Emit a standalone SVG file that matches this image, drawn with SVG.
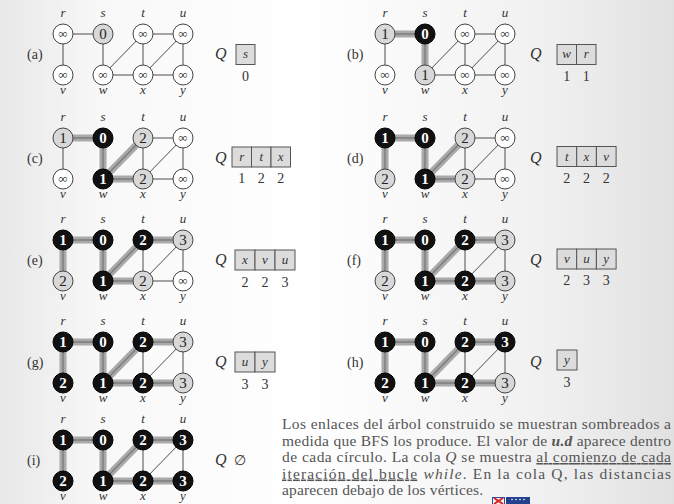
<svg xmlns="http://www.w3.org/2000/svg" width="674" height="504" viewBox="0 0 674 504" font-family="'Liberation Serif', 'Times New Roman', serif">
<defs>
<linearGradient id="bg" x1="0" y1="0" x2="1" y2="0">
<stop offset="0" stop-color="#e8e8e8"/>
<stop offset="0.15" stop-color="#f8f8f8"/>
<stop offset="0.45" stop-color="#ffffff"/>
<stop offset="0.8" stop-color="#f1f1f1"/>
<stop offset="1" stop-color="#e1e1e1"/>
</linearGradient>
<style>
.e{stroke:#3a3a3a;stroke-width:0.9;fill:none}
.tb{stroke:#a9a9a9;stroke-width:7;fill:none}
.tc{stroke:#7c7c7c;stroke-width:1.4;fill:none}
.nw{fill:#fff;stroke:#444;stroke-width:1}
.ng{fill:#d8d8d8;stroke:#444;stroke-width:1}
.nb{fill:#111;stroke:#000;stroke-width:1}
.num{font-family:'Liberation Serif',serif;font-size:15px;text-anchor:middle;fill:#222}
.w{fill:#fff;font-weight:bold}
.inf{font-family:'Liberation Serif',serif;font-size:13px;text-anchor:middle;fill:#333}
.lab{font-family:'Liberation Serif',serif;font-size:13px;font-style:italic;text-anchor:middle;fill:#333}
.pl{font-family:'Liberation Serif',serif;font-size:14px;fill:#333}
.q{font-family:'Liberation Serif',serif;font-size:16px;font-style:italic;fill:#333}
.cell{fill:#dcdcdc;stroke:#555;stroke-width:1}
.ql{font-family:'Liberation Serif',serif;font-size:13px;font-style:italic;text-anchor:middle;fill:#333}
.qn{font-family:'Liberation Serif',serif;font-size:14px;text-anchor:middle;fill:#333}
.para{font-family:'Liberation Serif',serif;font-size:15.5px;fill:#555}
</style>
</defs>
<rect x="0" y="0" width="674" height="504" fill="url(#bg)"/>

<!-- Panel (a) -->
<g id="panel-a" transform="translate(63,34)">
<text class="pl" x="-36" y="25">(a)</text>
<g id="a-edges">
<line class="e" x1="0" y1="0" x2="40" y2="0"/><line class="e" x1="0" y1="0" x2="0" y2="41"/><line class="e" x1="40" y1="0" x2="40" y2="41"/><line class="e" x1="40" y1="41" x2="80" y2="0"/><line class="e" x1="40" y1="41" x2="80" y2="41"/><line class="e" x1="80" y1="0" x2="80" y2="41"/><line class="e" x1="80" y1="0" x2="120" y2="0"/><line class="e" x1="80" y1="41" x2="120" y2="0"/><line class="e" x1="80" y1="41" x2="120" y2="41"/><line class="e" x1="120" y1="0" x2="120" y2="41"/>
</g>
<g id="a-r"><circle class="nw" cx="0" cy="0" r="10"/><text class="inf" x="0" y="4">∞</text><text class="lab" x="0" y="-17">r</text></g>
<g id="a-s"><circle class="ng" cx="40" cy="0" r="10"/><text class="num" x="40" y="5">0</text><text class="lab" x="40" y="-17">s</text></g>
<g id="a-t"><circle class="nw" cx="80" cy="0" r="10"/><text class="inf" x="80" y="4">∞</text><text class="lab" x="80" y="-17">t</text></g>
<g id="a-u"><circle class="nw" cx="120" cy="0" r="10"/><text class="inf" x="120" y="4">∞</text><text class="lab" x="120" y="-17">u</text></g>
<g id="a-v"><circle class="nw" cx="0" cy="41" r="10"/><text class="inf" x="0" y="45">∞</text><text class="lab" x="0" y="60">v</text></g>
<g id="a-w"><circle class="nw" cx="40" cy="41" r="10"/><text class="inf" x="40" y="45">∞</text><text class="lab" x="40" y="60">w</text></g>
<g id="a-x"><circle class="nw" cx="80" cy="41" r="10"/><text class="inf" x="80" y="45">∞</text><text class="lab" x="80" y="60">x</text></g>
<g id="a-y"><circle class="nw" cx="120" cy="41" r="10"/><text class="inf" x="120" y="45">∞</text><text class="lab" x="120" y="60">y</text></g>
<g id="a-queue"><text class="q" x="152" y="25">Q</text><rect class="cell" x="173" y="10.5" width="19" height="20"/><text class="ql" x="182.5" y="24">s</text><text class="qn" x="182.5" y="47">0</text></g>
</g>

<!-- Panel (b) -->
<g id="panel-b" transform="translate(385,34)">
<text class="pl" x="-38" y="25">(b)</text>
<g id="b-edges">
<line class="tb" x1="0" y1="0" x2="40" y2="0"/><line class="tc" x1="0" y1="0" x2="40" y2="0"/>
<line class="tb" x1="40" y1="0" x2="40" y2="41"/><line class="tc" x1="40" y1="0" x2="40" y2="41"/>
<line class="e" x1="0" y1="0" x2="0" y2="41"/><line class="e" x1="40" y1="41" x2="80" y2="0"/><line class="e" x1="40" y1="41" x2="80" y2="41"/><line class="e" x1="80" y1="0" x2="80" y2="41"/><line class="e" x1="80" y1="0" x2="120" y2="0"/><line class="e" x1="80" y1="41" x2="120" y2="0"/><line class="e" x1="80" y1="41" x2="120" y2="41"/><line class="e" x1="120" y1="0" x2="120" y2="41"/>
</g>
<g id="b-r"><circle class="ng" cx="0" cy="0" r="10"/><text class="num" x="0" y="5">1</text><text class="lab" x="0" y="-17">r</text></g>
<g id="b-s"><circle class="nb" cx="40" cy="0" r="10"/><text class="num w" x="40" y="5">0</text><text class="lab" x="40" y="-17">s</text></g>
<g id="b-t"><circle class="nw" cx="80" cy="0" r="10"/><text class="inf" x="80" y="4">∞</text><text class="lab" x="80" y="-17">t</text></g>
<g id="b-u"><circle class="nw" cx="120" cy="0" r="10"/><text class="inf" x="120" y="4">∞</text><text class="lab" x="120" y="-17">u</text></g>
<g id="b-v"><circle class="nw" cx="0" cy="41" r="10"/><text class="inf" x="0" y="45">∞</text><text class="lab" x="0" y="60">v</text></g>
<g id="b-w"><circle class="ng" cx="40" cy="41" r="10"/><text class="num" x="40" y="46">1</text><text class="lab" x="40" y="60">w</text></g>
<g id="b-x"><circle class="nw" cx="80" cy="41" r="10"/><text class="inf" x="80" y="45">∞</text><text class="lab" x="80" y="60">x</text></g>
<g id="b-y"><circle class="nw" cx="120" cy="41" r="10"/><text class="inf" x="120" y="45">∞</text><text class="lab" x="120" y="60">y</text></g>
<g id="b-queue"><text class="q" x="145" y="25">Q</text><rect class="cell" x="172" y="10.5" width="19.5" height="20"/><rect class="cell" x="191.5" y="10.5" width="19.5" height="20"/><text class="ql" x="181.7" y="24">w</text><text class="ql" x="201.2" y="24">r</text><text class="qn" x="181.7" y="47">1</text><text class="qn" x="201.2" y="47">1</text></g>
</g>

<!-- Panel (c) -->
<g id="panel-c" transform="translate(63,138)">
<text class="pl" x="-36" y="25">(c)</text>
<g id="c-edges">
<line class="tb" x1="0" y1="0" x2="40" y2="0"/><line class="tc" x1="0" y1="0" x2="40" y2="0"/>
<line class="tb" x1="40" y1="0" x2="40" y2="41"/><line class="tc" x1="40" y1="0" x2="40" y2="41"/>
<line class="tb" x1="40" y1="41" x2="80" y2="0"/><line class="tc" x1="40" y1="41" x2="80" y2="0"/>
<line class="tb" x1="40" y1="41" x2="80" y2="41"/><line class="tc" x1="40" y1="41" x2="80" y2="41"/>
<line class="e" x1="0" y1="0" x2="0" y2="41"/><line class="e" x1="80" y1="0" x2="80" y2="41"/><line class="e" x1="80" y1="0" x2="120" y2="0"/><line class="e" x1="80" y1="41" x2="120" y2="0"/><line class="e" x1="80" y1="41" x2="120" y2="41"/><line class="e" x1="120" y1="0" x2="120" y2="41"/>
</g>
<g id="c-r"><circle class="ng" cx="0" cy="0" r="10"/><text class="num" x="0" y="5">1</text><text class="lab" x="0" y="-17">r</text></g>
<g id="c-s"><circle class="nb" cx="40" cy="0" r="10"/><text class="num w" x="40" y="5">0</text><text class="lab" x="40" y="-17">s</text></g>
<g id="c-t"><circle class="ng" cx="80" cy="0" r="10"/><text class="num" x="80" y="5">2</text><text class="lab" x="80" y="-17">t</text></g>
<g id="c-u"><circle class="nw" cx="120" cy="0" r="10"/><text class="inf" x="120" y="4">∞</text><text class="lab" x="120" y="-17">u</text></g>
<g id="c-v"><circle class="nw" cx="0" cy="41" r="10"/><text class="inf" x="0" y="45">∞</text><text class="lab" x="0" y="60">v</text></g>
<g id="c-w"><circle class="nb" cx="40" cy="41" r="10"/><text class="num w" x="40" y="46">1</text><text class="lab" x="40" y="60">w</text></g>
<g id="c-x"><circle class="ng" cx="80" cy="41" r="10"/><text class="num" x="80" y="46">2</text><text class="lab" x="80" y="60">x</text></g>
<g id="c-y"><circle class="nw" cx="120" cy="41" r="10"/><text class="inf" x="120" y="45">∞</text><text class="lab" x="120" y="60">y</text></g>
<g id="c-queue"><text class="q" x="152" y="25">Q</text><rect class="cell" x="169" y="9" width="19.5" height="20"/><rect class="cell" x="188.5" y="9" width="19.5" height="20"/><rect class="cell" x="208" y="9" width="19.5" height="20"/><text class="ql" x="178.7" y="23">r</text><text class="ql" x="198.2" y="23">t</text><text class="ql" x="217.7" y="23">x</text><text class="qn" x="178.7" y="45">1</text><text class="qn" x="198.2" y="45">2</text><text class="qn" x="217.7" y="45">2</text></g>
</g>

<!-- Panel (d) -->
<g id="panel-d" transform="translate(385,138)">
<text class="pl" x="-38" y="25">(d)</text>
<g id="d-edges">
<line class="tb" x1="0" y1="0" x2="40" y2="0"/><line class="tc" x1="0" y1="0" x2="40" y2="0"/>
<line class="tb" x1="0" y1="0" x2="0" y2="41"/><line class="tc" x1="0" y1="0" x2="0" y2="41"/>
<line class="tb" x1="40" y1="0" x2="40" y2="41"/><line class="tc" x1="40" y1="0" x2="40" y2="41"/>
<line class="tb" x1="40" y1="41" x2="80" y2="0"/><line class="tc" x1="40" y1="41" x2="80" y2="0"/>
<line class="tb" x1="40" y1="41" x2="80" y2="41"/><line class="tc" x1="40" y1="41" x2="80" y2="41"/>
<line class="e" x1="80" y1="0" x2="80" y2="41"/><line class="e" x1="80" y1="0" x2="120" y2="0"/><line class="e" x1="80" y1="41" x2="120" y2="0"/><line class="e" x1="80" y1="41" x2="120" y2="41"/><line class="e" x1="120" y1="0" x2="120" y2="41"/>
</g>
<g id="d-r"><circle class="nb" cx="0" cy="0" r="10"/><text class="num w" x="0" y="5">1</text><text class="lab" x="0" y="-17">r</text></g>
<g id="d-s"><circle class="nb" cx="40" cy="0" r="10"/><text class="num w" x="40" y="5">0</text><text class="lab" x="40" y="-17">s</text></g>
<g id="d-t"><circle class="ng" cx="80" cy="0" r="10"/><text class="num" x="80" y="5">2</text><text class="lab" x="80" y="-17">t</text></g>
<g id="d-u"><circle class="nw" cx="120" cy="0" r="10"/><text class="inf" x="120" y="4">∞</text><text class="lab" x="120" y="-17">u</text></g>
<g id="d-v"><circle class="ng" cx="0" cy="41" r="10"/><text class="num" x="0" y="46">2</text><text class="lab" x="0" y="60">v</text></g>
<g id="d-w"><circle class="nb" cx="40" cy="41" r="10"/><text class="num w" x="40" y="46">1</text><text class="lab" x="40" y="60">w</text></g>
<g id="d-x"><circle class="ng" cx="80" cy="41" r="10"/><text class="num" x="80" y="46">2</text><text class="lab" x="80" y="60">x</text></g>
<g id="d-y"><circle class="nw" cx="120" cy="41" r="10"/><text class="inf" x="120" y="45">∞</text><text class="lab" x="120" y="60">y</text></g>
<g id="d-queue"><text class="q" x="145" y="25">Q</text><rect class="cell" x="172" y="8.5" width="19.7" height="20"/><rect class="cell" x="191.7" y="8.5" width="19.7" height="20"/><rect class="cell" x="211.4" y="8.5" width="19.7" height="20"/><text class="ql" x="181.8" y="22.5">t</text><text class="ql" x="201.5" y="22.5">x</text><text class="ql" x="221.2" y="22.5">v</text><text class="qn" x="181.8" y="45">2</text><text class="qn" x="201.5" y="45">2</text><text class="qn" x="221.2" y="45">2</text></g>
</g>

<!-- Panel (e) -->
<g id="panel-e" transform="translate(63,240)">
<text class="pl" x="-36" y="25">(e)</text>
<g id="e-edges">
<line class="tb" x1="0" y1="0" x2="40" y2="0"/><line class="tc" x1="0" y1="0" x2="40" y2="0"/>
<line class="tb" x1="0" y1="0" x2="0" y2="41"/><line class="tc" x1="0" y1="0" x2="0" y2="41"/>
<line class="tb" x1="40" y1="0" x2="40" y2="41"/><line class="tc" x1="40" y1="0" x2="40" y2="41"/>
<line class="tb" x1="40" y1="41" x2="80" y2="0"/><line class="tc" x1="40" y1="41" x2="80" y2="0"/>
<line class="tb" x1="40" y1="41" x2="80" y2="41"/><line class="tc" x1="40" y1="41" x2="80" y2="41"/>
<line class="tb" x1="80" y1="0" x2="120" y2="0"/><line class="tc" x1="80" y1="0" x2="120" y2="0"/>
<line class="e" x1="80" y1="0" x2="80" y2="41"/><line class="e" x1="80" y1="41" x2="120" y2="0"/><line class="e" x1="80" y1="41" x2="120" y2="41"/><line class="e" x1="120" y1="0" x2="120" y2="41"/>
</g>
<g id="e-r"><circle class="nb" cx="0" cy="0" r="10"/><text class="num w" x="0" y="5">1</text><text class="lab" x="0" y="-17">r</text></g>
<g id="e-s"><circle class="nb" cx="40" cy="0" r="10"/><text class="num w" x="40" y="5">0</text><text class="lab" x="40" y="-17">s</text></g>
<g id="e-t"><circle class="nb" cx="80" cy="0" r="10"/><text class="num w" x="80" y="5">2</text><text class="lab" x="80" y="-17">t</text></g>
<g id="e-u"><circle class="ng" cx="120" cy="0" r="10"/><text class="num" x="120" y="5">3</text><text class="lab" x="120" y="-17">u</text></g>
<g id="e-v"><circle class="ng" cx="0" cy="41" r="10"/><text class="num" x="0" y="46">2</text><text class="lab" x="0" y="60">v</text></g>
<g id="e-w"><circle class="nb" cx="40" cy="41" r="10"/><text class="num w" x="40" y="46">1</text><text class="lab" x="40" y="60">w</text></g>
<g id="e-x"><circle class="ng" cx="80" cy="41" r="10"/><text class="num" x="80" y="46">2</text><text class="lab" x="80" y="60">x</text></g>
<g id="e-y"><circle class="nw" cx="120" cy="41" r="10"/><text class="inf" x="120" y="45">∞</text><text class="lab" x="120" y="60">y</text></g>
<g id="e-queue"><text class="q" x="152" y="25">Q</text><rect class="cell" x="172" y="10" width="20" height="20"/><rect class="cell" x="192" y="10" width="20" height="20"/><rect class="cell" x="212" y="10" width="20" height="20"/><text class="ql" x="182" y="24">x</text><text class="ql" x="202" y="24">v</text><text class="ql" x="222" y="24">u</text><text class="qn" x="182" y="47">2</text><text class="qn" x="202" y="47">2</text><text class="qn" x="222" y="47">3</text></g>
</g>

<!-- Panel (f) -->
<g id="panel-f" transform="translate(385,240)">
<text class="pl" x="-38" y="25">(f)</text>
<g id="f-edges">
<line class="tb" x1="0" y1="0" x2="40" y2="0"/><line class="tc" x1="0" y1="0" x2="40" y2="0"/>
<line class="tb" x1="0" y1="0" x2="0" y2="41"/><line class="tc" x1="0" y1="0" x2="0" y2="41"/>
<line class="tb" x1="40" y1="0" x2="40" y2="41"/><line class="tc" x1="40" y1="0" x2="40" y2="41"/>
<line class="tb" x1="40" y1="41" x2="80" y2="0"/><line class="tc" x1="40" y1="41" x2="80" y2="0"/>
<line class="tb" x1="40" y1="41" x2="80" y2="41"/><line class="tc" x1="40" y1="41" x2="80" y2="41"/>
<line class="tb" x1="80" y1="0" x2="120" y2="0"/><line class="tc" x1="80" y1="0" x2="120" y2="0"/>
<line class="tb" x1="80" y1="41" x2="120" y2="41"/><line class="tc" x1="80" y1="41" x2="120" y2="41"/>
<line class="e" x1="80" y1="0" x2="80" y2="41"/><line class="e" x1="80" y1="41" x2="120" y2="0"/><line class="e" x1="120" y1="0" x2="120" y2="41"/>
</g>
<g id="f-r"><circle class="nb" cx="0" cy="0" r="10"/><text class="num w" x="0" y="5">1</text><text class="lab" x="0" y="-17">r</text></g>
<g id="f-s"><circle class="nb" cx="40" cy="0" r="10"/><text class="num w" x="40" y="5">0</text><text class="lab" x="40" y="-17">s</text></g>
<g id="f-t"><circle class="nb" cx="80" cy="0" r="10"/><text class="num w" x="80" y="5">2</text><text class="lab" x="80" y="-17">t</text></g>
<g id="f-u"><circle class="ng" cx="120" cy="0" r="10"/><text class="num" x="120" y="5">3</text><text class="lab" x="120" y="-17">u</text></g>
<g id="f-v"><circle class="ng" cx="0" cy="41" r="10"/><text class="num" x="0" y="46">2</text><text class="lab" x="0" y="60">v</text></g>
<g id="f-w"><circle class="nb" cx="40" cy="41" r="10"/><text class="num w" x="40" y="46">1</text><text class="lab" x="40" y="60">w</text></g>
<g id="f-x"><circle class="nb" cx="80" cy="41" r="10"/><text class="num w" x="80" y="46">2</text><text class="lab" x="80" y="60">x</text></g>
<g id="f-y"><circle class="ng" cx="120" cy="41" r="10"/><text class="num" x="120" y="46">3</text><text class="lab" x="120" y="60">y</text></g>
<g id="f-queue"><text class="q" x="145" y="25">Q</text><rect class="cell" x="172" y="9" width="19.7" height="20"/><rect class="cell" x="191.7" y="9" width="19.7" height="20"/><rect class="cell" x="211.4" y="9" width="19.7" height="20"/><text class="ql" x="181.8" y="23">v</text><text class="ql" x="201.5" y="23">u</text><text class="ql" x="221.2" y="23">y</text><text class="qn" x="181.8" y="45">2</text><text class="qn" x="201.5" y="45">3</text><text class="qn" x="221.2" y="45">3</text></g>
</g>

<!-- Panel (g) -->
<g id="panel-g" transform="translate(63,342)">
<text class="pl" x="-36" y="25">(g)</text>
<g id="g-edges">
<line class="tb" x1="0" y1="0" x2="40" y2="0"/><line class="tc" x1="0" y1="0" x2="40" y2="0"/>
<line class="tb" x1="0" y1="0" x2="0" y2="41"/><line class="tc" x1="0" y1="0" x2="0" y2="41"/>
<line class="tb" x1="40" y1="0" x2="40" y2="41"/><line class="tc" x1="40" y1="0" x2="40" y2="41"/>
<line class="tb" x1="40" y1="41" x2="80" y2="0"/><line class="tc" x1="40" y1="41" x2="80" y2="0"/>
<line class="tb" x1="40" y1="41" x2="80" y2="41"/><line class="tc" x1="40" y1="41" x2="80" y2="41"/>
<line class="tb" x1="80" y1="0" x2="120" y2="0"/><line class="tc" x1="80" y1="0" x2="120" y2="0"/>
<line class="tb" x1="80" y1="41" x2="120" y2="41"/><line class="tc" x1="80" y1="41" x2="120" y2="41"/>
<line class="e" x1="80" y1="0" x2="80" y2="41"/><line class="e" x1="80" y1="41" x2="120" y2="0"/><line class="e" x1="120" y1="0" x2="120" y2="41"/>
</g>
<g id="g-r"><circle class="nb" cx="0" cy="0" r="10"/><text class="num w" x="0" y="5">1</text><text class="lab" x="0" y="-17">r</text></g>
<g id="g-s"><circle class="nb" cx="40" cy="0" r="10"/><text class="num w" x="40" y="5">0</text><text class="lab" x="40" y="-17">s</text></g>
<g id="g-t"><circle class="nb" cx="80" cy="0" r="10"/><text class="num w" x="80" y="5">2</text><text class="lab" x="80" y="-17">t</text></g>
<g id="g-u"><circle class="ng" cx="120" cy="0" r="10"/><text class="num" x="120" y="5">3</text><text class="lab" x="120" y="-17">u</text></g>
<g id="g-v"><circle class="nb" cx="0" cy="41" r="10"/><text class="num w" x="0" y="46">2</text><text class="lab" x="0" y="60">v</text></g>
<g id="g-w"><circle class="nb" cx="40" cy="41" r="10"/><text class="num w" x="40" y="46">1</text><text class="lab" x="40" y="60">w</text></g>
<g id="g-x"><circle class="nb" cx="80" cy="41" r="10"/><text class="num w" x="80" y="46">2</text><text class="lab" x="80" y="60">x</text></g>
<g id="g-y"><circle class="ng" cx="120" cy="41" r="10"/><text class="num" x="120" y="46">3</text><text class="lab" x="120" y="60">y</text></g>
<g id="g-queue"><text class="q" x="152" y="25">Q</text><rect class="cell" x="172" y="10" width="20" height="20"/><rect class="cell" x="192" y="10" width="20" height="20"/><text class="ql" x="182" y="24">u</text><text class="ql" x="202" y="24">y</text><text class="qn" x="182" y="47">3</text><text class="qn" x="202" y="47">3</text></g>
</g>

<!-- Panel (h) -->
<g id="panel-h" transform="translate(385,342)">
<text class="pl" x="-38" y="25">(h)</text>
<g id="h-edges">
<line class="tb" x1="0" y1="0" x2="40" y2="0"/><line class="tc" x1="0" y1="0" x2="40" y2="0"/>
<line class="tb" x1="0" y1="0" x2="0" y2="41"/><line class="tc" x1="0" y1="0" x2="0" y2="41"/>
<line class="tb" x1="40" y1="0" x2="40" y2="41"/><line class="tc" x1="40" y1="0" x2="40" y2="41"/>
<line class="tb" x1="40" y1="41" x2="80" y2="0"/><line class="tc" x1="40" y1="41" x2="80" y2="0"/>
<line class="tb" x1="40" y1="41" x2="80" y2="41"/><line class="tc" x1="40" y1="41" x2="80" y2="41"/>
<line class="tb" x1="80" y1="0" x2="120" y2="0"/><line class="tc" x1="80" y1="0" x2="120" y2="0"/>
<line class="tb" x1="80" y1="41" x2="120" y2="41"/><line class="tc" x1="80" y1="41" x2="120" y2="41"/>
<line class="e" x1="80" y1="0" x2="80" y2="41"/><line class="e" x1="80" y1="41" x2="120" y2="0"/><line class="e" x1="120" y1="0" x2="120" y2="41"/>
</g>
<g id="h-r"><circle class="nb" cx="0" cy="0" r="10"/><text class="num w" x="0" y="5">1</text><text class="lab" x="0" y="-17">r</text></g>
<g id="h-s"><circle class="nb" cx="40" cy="0" r="10"/><text class="num w" x="40" y="5">0</text><text class="lab" x="40" y="-17">s</text></g>
<g id="h-t"><circle class="nb" cx="80" cy="0" r="10"/><text class="num w" x="80" y="5">2</text><text class="lab" x="80" y="-17">t</text></g>
<g id="h-u"><circle class="nb" cx="120" cy="0" r="10"/><text class="num w" x="120" y="5">3</text><text class="lab" x="120" y="-17">u</text></g>
<g id="h-v"><circle class="nb" cx="0" cy="41" r="10"/><text class="num w" x="0" y="46">2</text><text class="lab" x="0" y="60">v</text></g>
<g id="h-w"><circle class="nb" cx="40" cy="41" r="10"/><text class="num w" x="40" y="46">1</text><text class="lab" x="40" y="60">w</text></g>
<g id="h-x"><circle class="nb" cx="80" cy="41" r="10"/><text class="num w" x="80" y="46">2</text><text class="lab" x="80" y="60">x</text></g>
<g id="h-y"><circle class="ng" cx="120" cy="41" r="10"/><text class="num" x="120" y="46">3</text><text class="lab" x="120" y="60">y</text></g>
<g id="h-queue"><text class="q" x="145" y="25">Q</text><rect class="cell" x="172" y="8" width="20" height="20"/><text class="ql" x="182" y="22">y</text><text class="qn" x="182" y="45">3</text></g>
</g>

<!-- Panel (i) -->
<g id="panel-i" transform="translate(63,440)">
<text class="pl" x="-36" y="25">(i)</text>
<g id="i-edges">
<line class="tb" x1="0" y1="0" x2="40" y2="0"/><line class="tc" x1="0" y1="0" x2="40" y2="0"/>
<line class="tb" x1="0" y1="0" x2="0" y2="41"/><line class="tc" x1="0" y1="0" x2="0" y2="41"/>
<line class="tb" x1="40" y1="0" x2="40" y2="41"/><line class="tc" x1="40" y1="0" x2="40" y2="41"/>
<line class="tb" x1="40" y1="41" x2="80" y2="0"/><line class="tc" x1="40" y1="41" x2="80" y2="0"/>
<line class="tb" x1="40" y1="41" x2="80" y2="41"/><line class="tc" x1="40" y1="41" x2="80" y2="41"/>
<line class="tb" x1="80" y1="0" x2="120" y2="0"/><line class="tc" x1="80" y1="0" x2="120" y2="0"/>
<line class="tb" x1="80" y1="41" x2="120" y2="41"/><line class="tc" x1="80" y1="41" x2="120" y2="41"/>
<line class="e" x1="80" y1="0" x2="80" y2="41"/><line class="e" x1="80" y1="41" x2="120" y2="0"/><line class="e" x1="120" y1="0" x2="120" y2="41"/>
</g>
<g id="i-r"><circle class="nb" cx="0" cy="0" r="10"/><text class="num w" x="0" y="5">1</text><text class="lab" x="0" y="-17">r</text></g>
<g id="i-s"><circle class="nb" cx="40" cy="0" r="10"/><text class="num w" x="40" y="5">0</text><text class="lab" x="40" y="-17">s</text></g>
<g id="i-t"><circle class="nb" cx="80" cy="0" r="10"/><text class="num w" x="80" y="5">2</text><text class="lab" x="80" y="-17">t</text></g>
<g id="i-u"><circle class="nb" cx="120" cy="0" r="10"/><text class="num w" x="120" y="5">3</text><text class="lab" x="120" y="-17">u</text></g>
<g id="i-v"><circle class="nb" cx="0" cy="41" r="10"/><text class="num w" x="0" y="46">2</text><text class="lab" x="0" y="60">v</text></g>
<g id="i-w"><circle class="nb" cx="40" cy="41" r="10"/><text class="num w" x="40" y="46">1</text><text class="lab" x="40" y="60">w</text></g>
<g id="i-x"><circle class="nb" cx="80" cy="41" r="10"/><text class="num w" x="80" y="46">2</text><text class="lab" x="80" y="60">x</text></g>
<g id="i-y"><circle class="nb" cx="120" cy="41" r="10"/><text class="num w" x="120" y="46">3</text><text class="lab" x="120" y="60">y</text></g>
<g id="i-queue"><text class="q" x="152" y="25">Q</text><text class="qn" x="177" y="25">∅</text></g>
</g>

<!-- Caption -->
<g id="caption">
<text class="para" x="282" y="429" textLength="389" lengthAdjust="spacing">Los enlaces del árbol construido se muestran sombreados a</text>
<text class="para" x="282" y="445.5" textLength="389" lengthAdjust="spacing">medida que BFS los produce. El valor de <tspan font-weight="bold" font-style="italic">u.d</tspan> aparece dentro</text>
<text class="para" x="282" y="462" textLength="389" lengthAdjust="spacing">de cada círculo. La cola <tspan font-style="italic">Q</tspan> se muestra <tspan text-decoration="underline">al comienzo de cada</tspan></text>
<text class="para" x="282" y="478.5" textLength="389" lengthAdjust="spacing"><tspan text-decoration="underline">iteración del bucle</tspan> <tspan font-style="italic">while</tspan>. En la cola Q, las distancias</text>
<text class="para" x="282" y="495" textLength="201" lengthAdjust="spacing">aparecen debajo de los vértices.</text>
</g>

<!-- Logo -->
<g id="logo">
<rect x="492" y="497" width="13" height="7" fill="#2d4c9c"/>
<rect x="493" y="498" width="11" height="6" fill="#f3f3f3"/>
<line x1="494" y1="498" x2="503" y2="504" stroke="#d22" stroke-width="2"/>
<line x1="503" y1="498" x2="494" y2="504" stroke="#d22" stroke-width="2"/>
<rect x="506" y="497" width="24" height="7" fill="#23418f"/>
<circle cx="512" cy="499.5" r="0.8" fill="#fff"/><circle cx="516" cy="499.5" r="0.8" fill="#fff"/><circle cx="520" cy="499.5" r="0.8" fill="#fff"/><circle cx="524" cy="499.5" r="0.8" fill="#fff"/>
</g>
</svg>
